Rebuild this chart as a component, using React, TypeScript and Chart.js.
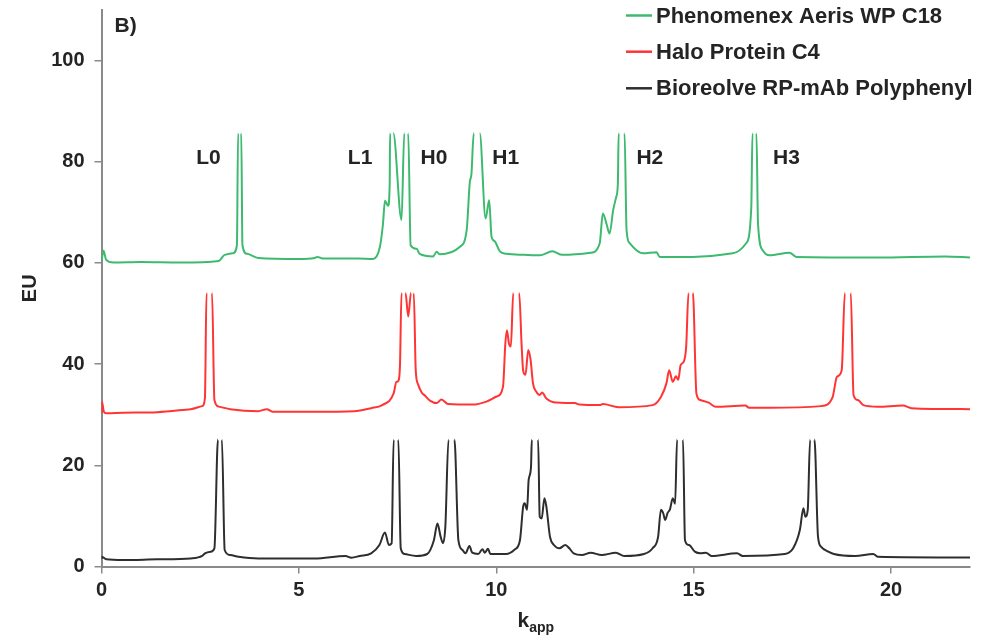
import React, { useEffect, useRef } from "react";
import { Chart, registerables } from "chart.js";

Chart.register(...registerables);

// ---------- data ----------
const SERIES_LABELS = ["Phenomenex Aeris WP C18", "Halo Protein C4", "Bioreolve RP-mAb Polyphenyl"];
const SERIES_COLORS = ["#3dba6f", "#ff3535", "#2e2e2e"];
// level at which each trace was cut off in the original figure (open peak tops)
const CLIP_LEVELS = [85.7, 54.1, 25.1];

const greenTrace: [number, number][] = [
  [0, 60.3], [0.05, 62.4], [0.12, 60.6], [0.3, 60.1], [1.0, 60.2], [2.0, 60.1], [2.97, 60.4],
  [3.12, 61.6], [3.33, 61.9], [3.43, 63.5], [3.46, 85.7], [3.54, 85.7], [3.57, 63.5], [3.69, 61.8],
  [3.97, 61.0], [5.0, 60.8], [5.4, 61.0], [5.47, 61.2], [5.6, 60.9], [6.5, 60.9], [6.88, 60.8],
  [7.05, 63.1], [7.13, 67.7], [7.18, 72.3], [7.26, 71.3], [7.3, 75.5], [7.31, 85.7], [7.39, 85.7],
  [7.6, 68.5], [7.67, 85.7], [7.77, 85.7], [7.83, 63.5], [7.98, 62.8], [8.06, 61.8], [8.4, 61.3],
  [8.49, 62.2], [8.57, 61.7], [9.08, 63.2], [9.25, 66.5], [9.33, 76.0], [9.37, 77.5], [9.43, 85.7],
  [9.58, 85.7], [9.73, 68.8], [9.82, 72.4], [9.88, 65.2], [9.96, 64.3], [10.09, 62.3], [10.26, 61.8],
  [10.7, 61.6], [11.1, 61.5], [11.42, 62.3], [11.67, 61.6], [12.39, 62.0], [12.62, 63.9], [12.7, 69.8],
  [12.79, 67.8], [12.87, 65.8], [12.96, 70.4], [13.04, 73.1], [13.08, 75.7], [13.1, 85.7], [13.25, 85.7],
  [13.3, 66.5], [13.38, 63.9], [13.55, 62.5], [13.72, 61.9], [14.06, 62.1], [14.14, 61.2], [14.98, 61.2],
  [15.99, 61.9], [16.33, 63.9], [16.46, 71.1], [16.49, 85.7], [16.59, 85.7], [16.63, 67.8], [16.75, 62.5],
  [16.92, 61.5], [17.43, 62.0], [17.6, 61.2], [19.66, 61.1], [21.37, 61.3], [22.0, 61.1],
];

const redTrace: [number, number][] = [
  [0, 30.3], [0.01, 32.6], [0.06, 30.6], [0.12, 30.3], [0.55, 30.4], [1.41, 30.5], [2.26, 31.1],
  [2.55, 31.7], [2.62, 33.3], [2.66, 54.1], [2.8, 54.1], [2.86, 32.9], [2.97, 31.6], [3.26, 31.1],
  [3.97, 30.7], [4.19, 31.1], [4.33, 30.6], [5.4, 30.6], [6.4, 30.7], [6.83, 31.3], [7.11, 31.9],
  [7.4, 34.2], [7.47, 36.5], [7.51, 36.6], [7.56, 39.6], [7.6, 54.1], [7.7, 54.1], [7.77, 49.4],
  [7.84, 54.1], [7.91, 54.1], [7.96, 38.8], [8.02, 36.0], [8.11, 34.4], [8.19, 33.8], [8.32, 32.8],
  [8.49, 32.3], [8.61, 33.0], [8.78, 32.1], [9.41, 32.0], [9.75, 32.6], [10.01, 33.6], [10.17, 35.5],
  [10.23, 44.1], [10.27, 46.7], [10.32, 44.1], [10.37, 43.5], [10.43, 54.1], [10.58, 54.1], [10.64, 44.1],
  [10.68, 38.8], [10.74, 37.9], [10.81, 42.8], [10.87, 40.8], [10.93, 36.2], [11.01, 34.6], [11.1, 33.9],
  [11.16, 34.4], [11.27, 33.2], [11.52, 32.4], [11.99, 32.3], [12.11, 32.0], [12.62, 31.9], [12.7, 32.1],
  [13.1, 31.5], [13.96, 31.9], [14.17, 33.5], [14.31, 36.2], [14.38, 38.8], [14.47, 36.5], [14.55, 37.6],
  [14.61, 36.9], [14.67, 39.8], [14.75, 40.5], [14.81, 43.4], [14.87, 54.1], [14.98, 54.1], [15.07, 34.2],
  [15.17, 32.9], [15.38, 32.4], [15.55, 31.6], [16.31, 31.8], [16.4, 31.4], [16.95, 31.4], [18.23, 31.7],
  [18.52, 33.5], [18.63, 37.5], [18.75, 38.8], [18.83, 54.1], [18.98, 54.1], [19.05, 33.9], [19.16, 32.9],
  [19.3, 31.9], [19.66, 31.6], [20.3, 31.8], [20.52, 31.3], [22.0, 31.1],
];

const blackTrace: [number, number][] = [
  [0, 1.5], [0.01, 1.94], [0.12, 1.42], [0.55, 1.28], [1.41, 1.42], [2.26, 1.6], [2.55, 2.08],
  [2.62, 2.6], [2.76, 2.93], [2.86, 3.6], [2.95, 25.1], [3.05, 25.1], [3.12, 3.26], [3.26, 2.27],
  [3.47, 1.94], [3.97, 1.6], [5.4, 1.6], [6.18, 2.08], [6.33, 1.75], [6.54, 2.08], [6.83, 2.6],
  [7.04, 4.25], [7.18, 6.7], [7.28, 4.25], [7.35, 4.58], [7.4, 25.1], [7.52, 25.1], [7.58, 3.6],
  [7.68, 2.47], [7.97, 2.08], [8.25, 2.47], [8.42, 5.2], [8.51, 8.5], [8.59, 5.9], [8.65, 4.6],
  [8.71, 7.9], [8.79, 25.1], [8.94, 25.1], [9.04, 5.2], [9.14, 3.3], [9.22, 2.6], [9.32, 4.05],
  [9.39, 2.73], [9.54, 2.47], [9.65, 3.4], [9.71, 2.73], [9.79, 3.5], [9.85, 2.47], [10.25, 2.47],
  [10.46, 3.3], [10.6, 5.2], [10.68, 11.8], [10.72, 12.5], [10.78, 11.2], [10.82, 17.1], [10.88, 19.7],
  [10.9, 25.1], [11.06, 25.1], [11.1, 9.85], [11.15, 9.5], [11.22, 13.5], [11.27, 11.8], [11.36, 5.9],
  [11.46, 4.25], [11.6, 3.6], [11.75, 4.25], [11.85, 3.6], [11.96, 2.6], [12.17, 2.27], [12.39, 2.73],
  [12.67, 2.27], [13.03, 2.73], [13.24, 2.08], [13.74, 2.47], [13.96, 3.6], [14.1, 5.9], [14.17, 11.2],
  [14.23, 10.5], [14.28, 9.2], [14.34, 10.6], [14.4, 11.3], [14.47, 13.5], [14.53, 12.4], [14.58, 25.1],
  [14.73, 25.1], [14.78, 5.2], [14.88, 4.25], [15.03, 2.93], [15.17, 2.6], [15.31, 2.73], [15.45, 2.08],
  [16.1, 2.6], [16.24, 2.08], [17.31, 2.47], [17.52, 3.6], [17.69, 7.2], [17.78, 11.5], [17.83, 9.85],
  [17.89, 11.2], [17.95, 25.1], [18.06, 25.1], [18.15, 5.9], [18.23, 3.9], [18.41, 2.93], [18.55, 2.47],
  [19.09, 2.08], [19.55, 2.47], [19.66, 1.94], [22.0, 1.8],
];

const PEAK_LABELS = ["L0", "L1", "H0", "H1", "H2", "H3"];
const PEAK_LABEL_X = [2.71, 6.55, 8.42, 10.24, 13.89, 17.35];
const PEAK_LABEL_Y = 80.7;

const X_MIN = 0, X_MAX = 22, X_STEP = 5, X_LAST_TICK = 20;
const Y_MIN = 0, Y_MAX = 110, Y_STEP = 20, Y_LAST_TICK = 100;
const PANEL_LETTER = "B)";
const Y_TITLE = "EU";
const X_TITLE_MAIN = "k";
const X_TITLE_SUB = "app";

const TEXT_COLOR = "#242424";
const AXIS_COLOR = "#8a8a8a";
const FONT_FAMILY = '"Liberation Sans", Arial, Helvetica, sans-serif';

const traces = [greenTrace, redTrace, blackTrace];

const overlayPlugin = {
  id: "overlayTexts",
  afterDraw(chart: any) {
    const { ctx, chartArea, scales } = chart;
    const xs = scales.x;
    const ys = scales.y;
    ctx.save();
    ctx.fillStyle = TEXT_COLOR;

    // peak labels
    ctx.font = `bold 21px ${FONT_FAMILY}`;
    ctx.textAlign = "center";
    ctx.textBaseline = "middle";
    PEAK_LABELS.forEach((t, i) => {
      ctx.fillText(t, xs.getPixelForValue(PEAK_LABEL_X[i]), ys.getPixelForValue(PEAK_LABEL_Y));
    });

    // panel letter
    ctx.font = `bold 21px ${FONT_FAMILY}`;
    ctx.textAlign = "left";
    ctx.fillText(PANEL_LETTER, chartArea.left + 13, chartArea.top + 16);

    // legend
    const legX0 = 626, legX1 = 652, legText = 656;
    const rows = [15.5, 51.7, 88.3];
    ctx.font = `bold 22px ${FONT_FAMILY}`;
    ctx.textAlign = "left";
    ctx.textBaseline = "middle";
    chart.data.datasets.forEach((ds: any, i: number) => {
      ctx.strokeStyle = ds.borderColor;
      ctx.lineWidth = 2.5;
      ctx.beginPath();
      ctx.moveTo(legX0, rows[i]);
      ctx.lineTo(legX1, rows[i]);
      ctx.stroke();
      ctx.fillStyle = TEXT_COLOR;
      ctx.fillText(ds.label, legText, rows[i] + 1);
    });

    // x title with subscript
    ctx.textBaseline = "alphabetic";
    ctx.font = `bold 21px ${FONT_FAMILY}`;
    const kw = ctx.measureText(X_TITLE_MAIN).width;
    ctx.font = `bold 14px ${FONT_FAMILY}`;
    const sw = ctx.measureText(X_TITLE_SUB).width;
    const cx = (chartArea.left + chartArea.right) / 2;
    const startX = cx - (kw + sw) / 2;
    ctx.font = `bold 21px ${FONT_FAMILY}`;
    ctx.fillText(X_TITLE_MAIN, startX, 627);
    ctx.font = `bold 14px ${FONT_FAMILY}`;
    ctx.fillText(X_TITLE_SUB, startX + kw, 632);

    // y title
    ctx.translate(30, (chartArea.top + chartArea.bottom) / 2);
    ctx.rotate(-Math.PI / 2);
    ctx.textAlign = "center";
    ctx.textBaseline = "middle";
    ctx.font = `bold 20px ${FONT_FAMILY}`;
    ctx.fillText(Y_TITLE, 0, 0);
    ctx.restore();
  },
};

export default function App() {
  const canvasRef = useRef<HTMLCanvasElement | null>(null);

  useEffect(() => {
    if (!canvasRef.current) return;
    const chart = new Chart(canvasRef.current, {
      type: "line",
      data: {
        datasets: traces.map((tr, i) => ({
          label: SERIES_LABELS[i],
          data: tr.map(([x, y]) => ({ x, y })),
          borderColor: SERIES_COLORS[i],
          borderWidth: 2,
          pointRadius: 0,
          cubicInterpolationMode: "monotone",
          fill: false,
          segment: {
            borderColor: (c: any) =>
              c.p0.parsed.y >= CLIP_LEVELS[i] - 0.01 && c.p1.parsed.y >= CLIP_LEVELS[i] - 0.01
                ? "rgba(0,0,0,0)"
                : undefined,
          },
        })),
      },
      options: {
        animation: false,
        responsive: false,
        devicePixelRatio: 1,
        layout: { padding: { top: 10, right: 11, left: 0, bottom: 0 } },
        plugins: { legend: { display: false }, tooltip: { enabled: false } },
        scales: {
          x: {
            type: "linear",
            min: X_MIN,
            max: X_MAX,
            afterBuildTicks: (s: any) => {
              s.ticks = s.ticks.filter((t: any) => t.value <= X_LAST_TICK);
            },
            afterFit: (s: any) => {
              s.height = 73.5;
              s.paddingLeft = 0;
              s.paddingRight = 0;
            },
            ticks: {
              stepSize: X_STEP,
              color: TEXT_COLOR,
              font: { family: FONT_FAMILY, size: 20, weight: "bold" },
              padding: 5,
              maxRotation: 0,
            },
            grid: { drawOnChartArea: false, drawTicks: true, tickLength: 7, color: AXIS_COLOR, lineWidth: 1.5 },
            border: { display: true, color: AXIS_COLOR, width: 2 },
          },
          y: {
            type: "linear",
            min: Y_MIN,
            max: Y_MAX,
            afterBuildTicks: (s: any) => {
              s.ticks = s.ticks.filter((t: any) => t.value <= Y_LAST_TICK);
            },
            afterFit: (s: any) => {
              s.width = 101.5;
              s.paddingTop = 0;
              s.paddingBottom = 0;
            },
            ticks: {
              stepSize: Y_STEP,
              color: TEXT_COLOR,
              font: { family: FONT_FAMILY, size: 20, weight: "bold" },
              padding: 10,
            },
            grid: { drawOnChartArea: false, drawTicks: true, tickLength: 7, color: AXIS_COLOR, lineWidth: 1.5 },
            border: { display: true, color: AXIS_COLOR, width: 2 },
          },
        },
      },
      plugins: [overlayPlugin],
    } as any);
    return () => chart.destroy();
  }, []);

  return (
    <div style={{ position: "absolute", left: 0, top: 0, width: 981, height: 640, background: "#fff" }}>
      <canvas ref={canvasRef} width={981} height={640} style={{ width: 981, height: 640, display: "block" }} />
    </div>
  );
}
